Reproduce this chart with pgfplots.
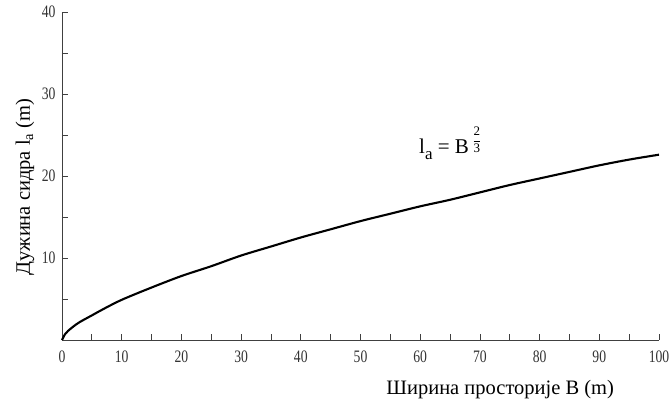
\documentclass[border=0pt]{standalone}
\usepackage{fontspec}
\setmainfont{Liberation Serif}
\usepackage{amsmath}
\usepackage{graphicx}
\usepackage{pgfplots}
\pgfplotsset{compat=1.18}
\newcommand{\tl}[1]{\scalebox{0.78}[1]{\fontsize{17.5}{19}\selectfont #1}}
\begin{document}
\begin{tikzpicture}
\begin{axis}[
  scale only axis,
  width=597pt, height=328pt,
  xmin=0, xmax=100, ymin=0, ymax=40,
  axis lines*=left,
  axis line style={-, draw=black!75, line width=0.8pt},
  xtick={0,10,...,100},
  minor xtick={5,15,...,95},
  ytick={10,20,30,40},
  minor ytick={5,15,25,35},
  tick align=inside,
  major tick length=6pt, minor tick length=6pt,
  tick style={draw=black!75, line width=0.8pt},
  /pgf/number format/assume math mode=true,
  tick label style={font=\fontsize{17.5}{19}\selectfont, color=black!80},
  xticklabel={\tl{\pgfmathprintnumber{\tick}}},
  yticklabel={\tl{\pgfmathprintnumber{\tick}}},
  xticklabel style={yshift=-7pt},
  yticklabel style={xshift=-3pt},
  xlabel={Ширина просторије B (m)},
  ylabel={Дужина сидра l\textsubscript{a} (m)},
  label style={font=\fontsize{20.5}{23}\selectfont},
  xlabel style={at={(axis description cs:0.734,0)}, anchor=center, yshift=-50pt},
  ylabel style={at={(axis description cs:0,0.467)}, anchor=center, yshift=37pt},
  clip=false,
]
\addplot[black, line width=2.1pt, smooth] coordinates {
(0,0) (0.5,0.7) (1,1.1) (2,1.7) (3,2.2) (5,3.0) (7,3.8) (10,4.9)
(15,6.4) (20,7.8) (25,9.0) (30,10.3) (35,11.4) (40,12.5) (45,13.5)
(50,14.5) (55,15.4) (60,16.3) (65,17.1) (70,18.0) (75,18.9) (80,19.7)
(85,20.5) (90,21.3) (95,22.0) (100,22.6)
};
\node[anchor=base west, inner sep=0pt, font=\fontsize{21}{24}\selectfont] at (axis cs:59.8,22.8)
  {l\raisebox{-6pt}{\fontsize{17}{17}\selectfont a} = B\,\raisebox{9pt}{\fontsize{13}{13}\selectfont$\genfrac{}{}{0.3pt}{0}{\text{2}}{\text{3}}$}};
\end{axis}
\pgfresetboundingbox
\path[use as bounding box] ([shift={(-62pt,-66pt)}]current axis.origin) rectangle ++(669pt,406pt);
\end{tikzpicture}
\end{document}
